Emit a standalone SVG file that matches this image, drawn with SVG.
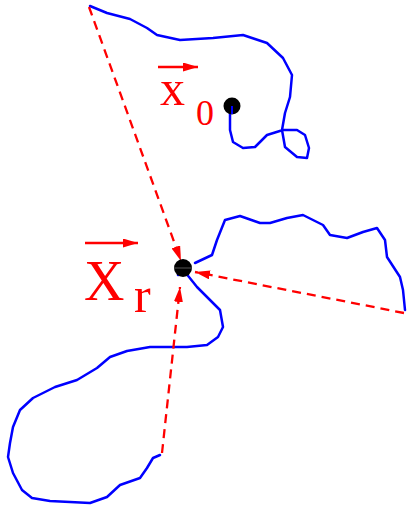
<svg xmlns="http://www.w3.org/2000/svg" width="409" height="506" viewBox="0 0 409 506">
<style>
.walk{fill:none;stroke:#0000ff;stroke-width:2.5;stroke-linejoin:round;stroke-linecap:round}
.vec{fill:none;stroke:#ff0000;stroke-width:2.3;stroke-dasharray:9,6}
.lbl{fill:#ff0000;font-family:"Liberation Serif",serif}
.dot{fill:#000}
</style>
<defs>
<marker id="ah" viewBox="0 0 15 9" refX="15" refY="4.5" markerWidth="15" markerHeight="9" markerUnits="userSpaceOnUse" orient="auto">
<path d="M0,0 L15,4.5 L0,9 Z" fill="#ff0000"/>
</marker>
</defs>
<g id="walks">
<polyline class="walk" points="90,6 107,13 130,19 147,28 157,35 180,40 213,38 243,35 267,43 283,58 292,75 290,97 285,113 282,130 285,147 297,157 307,158 309,148 305,135 297,130 283,130 267,135 255,147 243,148 233,142 230,130 230,108"/>
<polyline class="walk" points="195,263 212,255 217,240 225,220 240,216 260,223 270,223 287,218 303,215 323,225 330,235 347,238 363,232 377,228 385,240 387,257 400,277 403,290 405,310"/>
<polyline class="walk" points="178,275 185,272 197,287 210,300 220,310 223,327 218,337 207,345 187,347 150,347 127,351 110,357 97,368 77,380 55,387 33,398 20,410 13,427 10,443 8,457 13,473 22,490 32,498 50,501 70,502 90,503 107,497 120,485 140,478 147,468 153,458 160,455"/>
</g>
<g id="connectors">
<line class="vec" x1="89" y1="7" x2="181" y2="261" marker-end="url(#ah)"/>
<line class="vec" x1="404" y1="313" x2="195" y2="272" marker-end="url(#ah)"/>
<line class="vec" x1="162" y1="453" x2="180" y2="287" marker-end="url(#ah)"/>
</g>
<g id="node-x0">
<circle class="dot" cx="232" cy="106" r="8.5"/>
<line x1="232" y1="106" x2="232" y2="114" stroke="#0000ff" stroke-width="2"/>
<line x1="158" y1="67" x2="198" y2="67" stroke="#ff0000" stroke-width="2.3" marker-end="url(#ah)"/>
<text class="lbl" x="160" y="105" font-size="50">x</text>
<text class="lbl" x="196" y="125" font-size="36">0</text>
</g>
<g id="node-xr">
<circle class="dot" cx="183" cy="268" r="9"/>
<line x1="174" y1="268" x2="192" y2="268" stroke="#555" stroke-width="1"/>
<line x1="85" y1="243" x2="138" y2="243" stroke="#ff0000" stroke-width="2.3" marker-end="url(#ah)"/>
<text class="lbl" x="84" y="300" font-size="56">X</text>
<text class="lbl" x="134" y="312" font-size="50">r</text>
</g>
</svg>
